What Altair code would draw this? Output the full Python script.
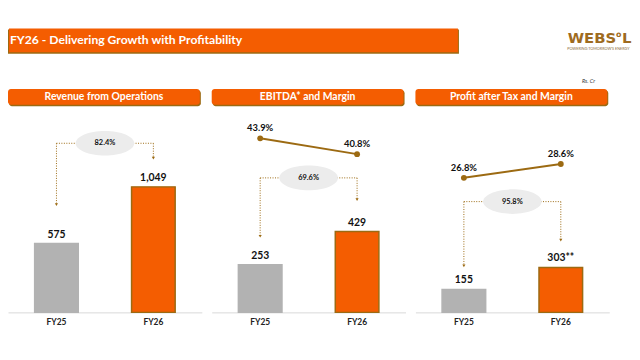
import altair as alt
import pandas as pd

# ---------------- data ----------------
years = ["FY25", "FY26"]
revenue = [575, 1049]
ebitda = [253, 429]
pat = [155, 303]
revenue_labels = ["575", "1,049"]
ebitda_labels = ["253", "429"]
pat_labels = ["155", "303**"]
ebitda_margin = [43.9, 40.8]
pat_margin = [26.8, 28.6]
ebitda_margin_labels = ["43.9%", "40.8%"]
pat_margin_labels = ["26.8%", "28.6%"]
panel_titles = ["Revenue from Operations", "EBITDA* and Margin", "Profit after Tax and Margin"]
growth = ["82.4%", "69.6%", "95.8%"]
main_title = "FY26 - Delivering Growth with Profitability"
unit_note = "Rs. Cr"

# ---------------- style ----------------
W, H = 196, 230
ORANGE = "#F45D01"
BROWN = "#9C6A12"
GRAY = "#B2B2B2"
FONT = "Lato"
ELLIPSE = "M-1,0A1,0.42,0,1,1,1,0A1,0.42,0,1,1,-1,0Z"

one = pd.DataFrame({"k": [0]})


def panel(values, labels, head, growth_txt, ymax, conn, margin=None, mlabels=None, mdomain=None):
    df = pd.DataFrame({"year": years, "value": values, "label": labels})
    base = alt.Chart(df)
    x = alt.X(
        "year:N",
        sort=years,
        scale=alt.Scale(paddingInner=0.55, paddingOuter=0.275),
        axis=alt.Axis(
            title=None, ticks=False, domainColor="#D9D9D9", domainWidth=1,
            labelFont=FONT, labelFontWeight="bold", labelFontSize=8.5,
            labelPadding=5, labelAngle=0, labelColor="#222222", grid=False,
        ),
    )
    y = alt.Y("value:Q", scale=alt.Scale(domain=[0, ymax]), axis=None)
    bars = base.mark_bar(strokeWidth=1.5).encode(
        x=x, y=y,
        color=alt.Color("year:N", scale=alt.Scale(domain=years, range=[GRAY, ORANGE]), legend=None),
        stroke=alt.Stroke("year:N", scale=alt.Scale(domain=years, range=[GRAY, BROWN]), legend=None),
    )
    vals = base.mark_text(dy=-4, baseline="bottom", font=FONT, fontWeight="bold",
                          fontSize=10.5, color="#111111").encode(x=x, y=y, text="label:N")

    hy, ly, ry = conn
    xl, xr = W * 0.25, W * 0.75
    c = alt.Chart(one)
    dash = dict(color=BROWN, strokeDash=[1, 1.5], strokeWidth=1)
    r1 = c.mark_rule(**dash).encode(x=alt.value(xl), y=alt.value(hy), y2=alt.value(ly))
    r2 = c.mark_rule(**dash).encode(x=alt.value(xr), y=alt.value(hy), y2=alt.value(ry))
    r3 = c.mark_rule(**dash).encode(x=alt.value(xl), x2=alt.value(xr), y=alt.value(hy))
    a1 = c.mark_point(shape="triangle-down", filled=True, size=10, color=BROWN, opacity=1).encode(
        x=alt.value(xl), y=alt.value(ly))
    a2 = c.mark_point(shape="triangle-down", filled=True, size=10, color=BROWN, opacity=1).encode(
        x=alt.value(xr), y=alt.value(ry))
    ell = c.mark_point(shape=ELLIPSE, filled=True, size=3500, color="#ECECEC", opacity=1).encode(
        x=alt.value(W / 2), y=alt.value(hy))
    gt = c.mark_text(font=FONT, fontWeight="bold", fontSize=7.5, color="#111111").encode(
        x=alt.value(W / 2), y=alt.value(hy), text=alt.value(growth_txt))

    hshadow = c.mark_rect(color=BROWN, cornerRadius=3).encode(
        x=alt.value(1), x2=alt.value(195), y=alt.value(5.5), y2=alt.value(21.5))
    hbox = c.mark_rect(color=ORANGE, cornerRadius=3).encode(
        x=alt.value(0), x2=alt.value(194), y=alt.value(4), y2=alt.value(20))
    htxt = c.mark_text(font=FONT, fontWeight="bold", fontSize=10.5, color="white").encode(
        x=alt.value(97), y=alt.value(12.5), text=alt.value(head))

    layers = [hshadow, hbox, htxt, bars, vals, r1, r2, r3, a1, a2, ell, gt]
    if margin is not None:
        mdf = pd.DataFrame({"year": years, "margin": margin, "mlabel": mlabels})
        m = alt.Chart(mdf)
        my = alt.Y("margin:Q", scale=alt.Scale(domain=mdomain), axis=None)
        line = m.mark_line(color=BROWN, strokeWidth=2,
                           point=alt.OverlayMarkDef(filled=True, size=35, color=BROWN)).encode(x=x, y=my)
        mt = m.mark_text(dy=-10, font=FONT, fontWeight="bold", fontSize=9.5, color="#111111").encode(
            x=x, y=my, text="mlabel:N")
        layers += [line, mt]
    return alt.layer(*layers).resolve_scale(y="independent").properties(width=W, height=H)


p1 = panel(revenue, revenue_labels, panel_titles[0], growth[0], 1901, (59, 121, 74))
p2 = panel(ebitda, ebitda_labels, panel_titles[1], growth[1], 1207, (94, 153, 116),
           ebitda_margin, ebitda_margin_labels, [9.80, 54.36])
p3 = panel(pat, pat_labels, panel_titles[2], growth[2], 1533, (118, 183, 157),
           pat_margin, pat_margin_labels, [9.31, 38.88])

LOGO = "#9E6B1F"
c = alt.Chart(one)
top = alt.layer(
    c.mark_rect(color=BROWN).encode(x=alt.value(0), x2=alt.value(456), y=alt.value(20), y2=alt.value(44.5)),
    c.mark_rect(color=ORANGE).encode(x=alt.value(1), x2=alt.value(455), y=alt.value(19), y2=alt.value(43)),
    c.mark_text(align="left", baseline="middle", font=FONT, fontWeight="bold", fontSize=12.3,
                color="white").encode(x=alt.value(2), y=alt.value(31), text=alt.value(main_title)),
    c.mark_text(align="left", baseline="alphabetic", font="DejaVu Sans", fontWeight="bold", fontSize=15,
                color=LOGO).encode(x=alt.value(566), y=alt.value(34), text=alt.value("WEBS")),
    c.mark_text(align="center", baseline="alphabetic", font="DejaVu Sans", fontWeight="bold", fontSize=8,
                color=LOGO).encode(x=alt.value(617.5), y=alt.value(28), text=alt.value("o")),
    c.mark_text(align="left", baseline="alphabetic", font="DejaVu Sans", fontWeight="bold", fontSize=15,
                color=LOGO).encode(x=alt.value(621), y=alt.value(34), text=alt.value("L")),
    c.mark_text(align="center", baseline="middle", font=FONT, fontSize=3.8,
                color="#8A6A3A").encode(x=alt.value(597), y=alt.value(39.5),
                                        text=alt.value("POWERING TOMORROW'S ENERGY")),
    c.mark_text(align="center", baseline="middle", font=FONT, fontSize=5.5, fontStyle="italic",
                color="#333333").encode(x=alt.value(587), y=alt.value(72), text=alt.value(unit_note)),
).properties(width=624, height=72)

chart = alt.vconcat(
    top,
    alt.hconcat(p1, p2, p3, spacing=10),
    spacing=0,
).properties(padding=0, background="white").configure_view(stroke=None)

chart.save("out.html", embed_options={"renderer": "svg", "actions": False})
